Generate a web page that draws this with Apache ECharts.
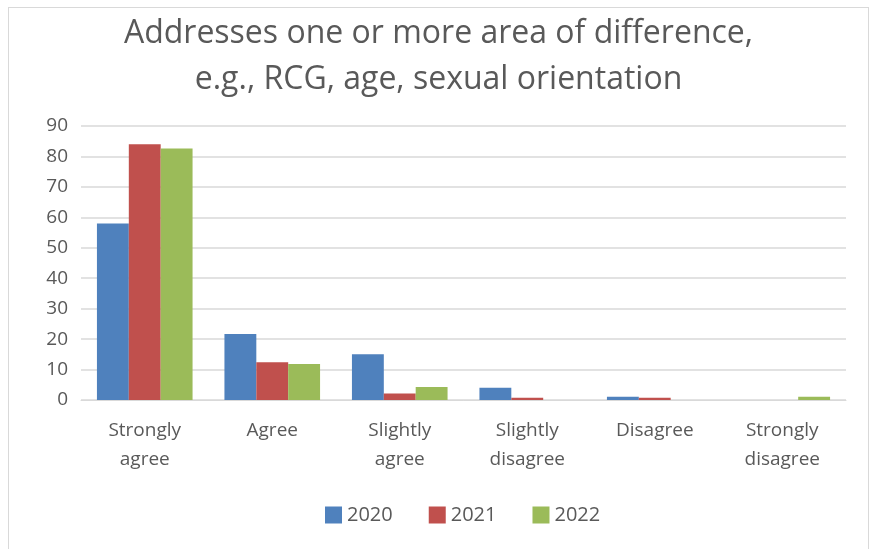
<!DOCTYPE html>
<html>
<head>
<meta charset="utf-8">
<script src="https://cdn.jsdelivr.net/npm/echarts@6/dist/echarts.min.js"></script>
<style>
  html, body { margin: 0; padding: 0; background: #fff; }
  #chart { position: absolute; left: 8px; top: 7px; width: 861px; height: 560px; border: 1px solid #d9d9d9; box-sizing: border-box; }
</style>
</head>
<body>
<div id="chart"></div>
<script>
const categories = ['Strongly\nagree', 'Agree', 'Slightly\nagree', 'Slightly\ndisagree', 'Disagree', 'Strongly\ndisagree']
const years = ['2020', '2021', '2022']
const values2020 = [58, 21.7, 15, 4, 1.1, 0]
const values2021 = [84, 12.4, 2.1, 0.7, 0.7, 0]
const values2022 = [82.6, 11.8, 4.3, 0, 0, 1.1]
const yTicks = [0, 10, 20, 30, 40, 50, 60, 70, 80, 90]

const colors = ['#4F81BD', '#C0504D', '#9BBB59']
const font = 'Open Sans'

const myChart = echarts.init(document.getElementById('chart'))
const option = {
  animation: false,
  title: {
    text: 'Addresses one or more area of difference,\ne.g., RCG, age, sexual orientation',
    left: 'center',
    top: -2,
    textStyle: {
      color: '#595959',
      fontFamily: font,
      fontSize: 32,
      fontWeight: 'normal',
      lineHeight: 46
    }
  },
  legend: {
    bottom: 36,
    left: 311,
    itemWidth: 17,
    itemHeight: 17,
    itemGap: 36,
    icon: 'rect',
    textStyle: { color: '#595959', fontFamily: font, fontSize: 20 },
    data: years
  },
  grid: {
    left: 72,
    right: 22,
    top: 118,
    bottom: 166
  },
  xAxis: {
    type: 'category',
    data: categories,
    axisLine: { show: true, lineStyle: { color: '#d9d9d9' } },
    axisTick: { show: false },
    axisLabel: {
      color: '#595959',
      fontFamily: font,
      fontSize: 19,
      lineHeight: 29,
      margin: 16,
      interval: 0
    }
  },
  yAxis: {
    type: 'value',
    min: yTicks[0],
    max: yTicks[yTicks.length - 1],
    interval: 10,
    axisLine: { show: false },
    axisTick: { show: false },
    axisLabel: { color: '#595959', fontFamily: font, fontSize: 19, margin: 13 },
    splitLine: { lineStyle: { color: '#d9d9d9', width: 1.5 } }
  },
  series: [values2020, values2021, values2022].map((data, index) => {
    return {
      name: years[index],
      type: 'bar',
      data: data,
      barGap: '0%',
      barCategoryGap: '25%',
      itemStyle: { color: colors[index] }
    }
  })
}
myChart.setOption(option)
</script>
</body>
</html>
